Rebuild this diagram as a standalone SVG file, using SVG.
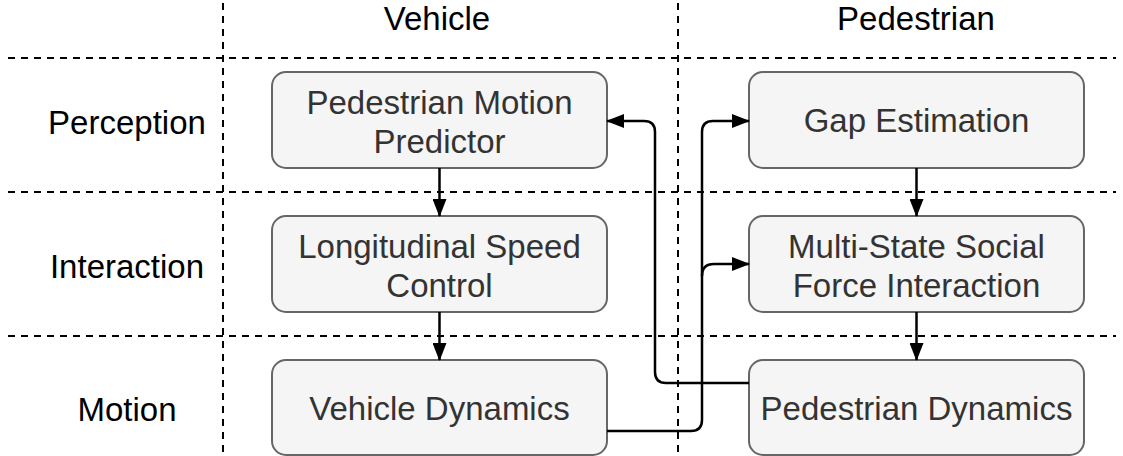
<svg xmlns="http://www.w3.org/2000/svg" width="1123" height="456" viewBox="0 0 1123 456">
<defs>
<style>
.grid{stroke:#000;stroke-width:2;stroke-dasharray:7 6;fill:none}
.box rect{fill:#f5f5f5;stroke:#666;stroke-width:2}
.box text{font-family:"Liberation Sans",Arial,sans-serif;font-size:33px;fill:#333;text-anchor:middle}
.lbl{font-family:"Liberation Sans",Arial,sans-serif;font-size:33px;fill:#000;text-anchor:middle}
.edge{stroke:#000;stroke-width:2.5;fill:none;marker-end:url(#arr)}
</style>
<marker id="arr" viewBox="0 0 18 14" refX="17" refY="7" markerWidth="18" markerHeight="14" markerUnits="userSpaceOnUse" orient="auto">
<path d="M0,0 L18,7 L0,14 Z" fill="#000"/>
</marker>
</defs>
<rect width="1123" height="456" fill="#fff"/>
<g id="grid">
<line class="grid" x1="8" y1="58" x2="1116" y2="58"/>
<line class="grid" x1="8" y1="192" x2="1116" y2="192"/>
<line class="grid" x1="8" y1="336" x2="1116" y2="336"/>
<line class="grid" x1="223" y1="3" x2="223" y2="456"/>
<line class="grid" x1="678" y1="3" x2="678" y2="456"/>
</g>
<g id="labels">
<text class="lbl" x="437" y="30">Vehicle</text>
<text class="lbl" x="916" y="30">Pedestrian</text>
<text class="lbl" x="127" y="134">Perception</text>
<text class="lbl" x="127" y="278">Interaction</text>
<text class="lbl" x="127" y="421">Motion</text>
</g>
<g id="pmp" class="box"><rect x="272" y="72" width="335" height="96" rx="14"/><text x="439.5" y="114">Pedestrian Motion</text><text x="439.5" y="153">Predictor</text></g>
<g id="lsc" class="box"><rect x="272" y="216" width="335" height="96" rx="14"/><text x="439.5" y="258">Longitudinal Speed</text><text x="439.5" y="297">Control</text></g>
<g id="vd" class="box"><rect x="272" y="360" width="335" height="95" rx="14"/><text x="439.5" y="420">Vehicle Dynamics</text></g>
<g id="ge" class="box"><rect x="749" y="72" width="335" height="96" rx="14"/><text x="916.5" y="132">Gap Estimation</text></g>
<g id="msf" class="box"><rect x="749" y="216" width="335" height="96" rx="14"/><text x="916.5" y="258">Multi-State Social</text><text x="916.5" y="297">Force Interaction</text></g>
<g id="pd" class="box"><rect x="749" y="360" width="335" height="95" rx="14"/><text x="916.5" y="420">Pedestrian Dynamics</text></g>
<g id="connectors">
<path class="edge" d="M439.5,168 L439.5,216"/>
<path class="edge" d="M439.5,312 L439.5,360"/>
<path class="edge" d="M916.5,168 L916.5,216"/>
<path class="edge" d="M916.5,312 L916.5,360"/>
<path class="edge" d="M749,383 L666,383 Q655,383 655,372 L655,132 Q655,121 644,121 L607,121"/>
<path class="edge" d="M607,431 L691,431 Q702,431 702,420 L702,132 Q702,121 713,121 L749,121"/>
<path class="edge" d="M702,276 Q702,264 714,264 L749,264"/>
</g>
</svg>
